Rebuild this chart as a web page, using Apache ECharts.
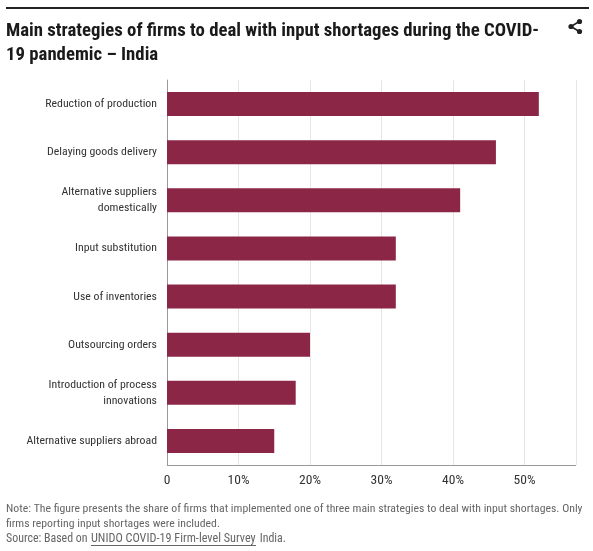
<!DOCTYPE html>
<html><head><meta charset="utf-8">
<style>html,body{margin:0;padding:0;background:#fff}#c{width:593px;height:551px}</style>
<script src="https://cdn.jsdelivr.net/npm/echarts@6/dist/echarts.min.js"></script>
</head><body><div id="c"></div>
<script>
const categories = ["Reduction of production","Delaying goods delivery","Alternative suppliers\ndomestically","Input substitution","Use of inventories","Outsourcing orders","Introduction of process\ninnovations","Alternative suppliers abroad"];
const shares = [52,46,41,32,32,20,18,15];
const tickLabels = {0:"0",10:"10%",20:"20%",30:"30%",40:"40%",50:"50%"};
const titleLines = "Main strategies of firms to deal with input shortages during the COVID-\n19 pandemic – India";
const noteLines = "Note: The figure presents the share of firms that implemented one of three main strategies to deal with input shortages. Only\nfirms reporting input shortages were included.";
const sourceParts = ["Source: Based on ","UNIDO COVID-19 Firm-level Survey"," India."];
const narrow = '"Roboto Condensed","Liberation Sans",sans-serif';
const chart = echarts.init(document.getElementById('c'));
chart.setOption({
  animation:false,
  grid:{left:167,right:17,top:80,bottom:86},
  xAxis:{type:'value',min:0,max:57.2,interval:10,
    axisLine:{show:false},axisTick:{show:false},
    axisLabel:{color:'#333',fontFamily:narrow,fontSize:13.5,margin:9,showMaxLabel:false,formatter:v=>tickLabels[v]??''},
    splitLine:{show:true,lineStyle:{color:'#e6e6e6',width:1}}},
  yAxis:{type:'category',inverse:true,data:categories,
    axisLine:{show:true,lineStyle:{color:'#999',width:1}},axisTick:{show:false},
    axisLabel:{color:'#333',fontFamily:narrow,fontSize:11.8,margin:10,lineHeight:16,align:'right',padding:[2,0,0,0]}},
  series:[{type:'bar',data:shares,barWidth:24,itemStyle:{color:'#8c2646'},silent:true}],
  graphic:[
    {type:'rect',shape:{x:6,y:7,width:583,height:2},style:{fill:'#222'}},
    {type:'text',x:6,y:19,style:{text:titleLines,fill:'#1a1a1a',font:'bold 18.75px '+narrow,lineHeight:24}},
    {type:'polyline',shape:{points:[[580,21],[571,26.5],[580,32]]},style:{stroke:'#222',lineWidth:1.6,fill:'none'}},
    {type:'circle',shape:{cx:579.5,cy:21.5,r:2.6},style:{fill:'#222'}},
    {type:'circle',shape:{cx:571,cy:26.5,r:2.6},style:{fill:'#222'}},
    {type:'circle',shape:{cx:579.5,cy:31.5,r:2.6},style:{fill:'#222'}},
    {type:'line',shape:{x1:167,y1:465.5,x2:576,y2:465.5},style:{stroke:'#999',lineWidth:1}},
    {type:'text',x:6,y:501,style:{text:noteLines,fill:'#666',font:'11.78px '+narrow,lineHeight:15.5}},
    {type:'text',x:6,y:533,style:{text:sourceParts[0],fill:'#666',font:'11.9px '+narrow}},
    {type:'text',x:91,y:533,style:{text:sourceParts[1],fill:'#666',font:'12.2px '+narrow}},
    {type:'rect',shape:{x:91,y:545,width:165,height:1},style:{fill:'#666'}},
    {type:'text',x:257,y:533,style:{text:sourceParts[2],fill:'#666',font:'11.9px '+narrow}}
  ]
});
</script></body></html>
